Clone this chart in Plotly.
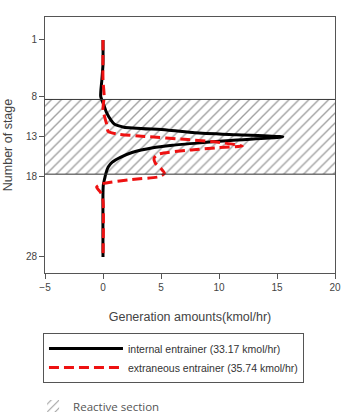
import plotly.graph_objects as go

# ---- data ----
stage_internal = [1, 4, 6, 8, 9, 10, 11, 11.5, 11.85, 12.2, 12.55, 12.8, 13.05,
                  13.15, 13.5, 13.8, 14.1, 14.4, 15.0, 15.6, 16.2, 16.8, 17.6,
                  18.4, 19.0, 20, 28]
gen_internal = [0, 0, -0.1, -0.2, 0.05, 0.3, 0.7, 1.0, 1.8, 5.5, 7.9, 11.5, 15.5,
                15.0, 11.0, 8.4, 6.0, 4.3, 2.5, 1.5, 0.8, 0.45, 0.25,
                0.12, 0.03, 0, 0]

stage_extraneous = [1, 6, 8, 9.7, 11.4, 12.4, 12.7, 13.0, 13.4, 13.7, 14.0, 14.2,
                    14.4, 14.7, 15.2, 15.7, 16.3, 17.0, 17.6, 18.0, 18.4, 18.9,
                    19.3, 20, 21, 28]
gen_extraneous = [0, 0, 0.1, 0, 0.3, 0.45, 1.2, 3.6, 7.3, 9.8, 11.3, 12.0,
                  10.0, 7.5, 4.8, 4.4, 4.5, 5.0, 5.3, 4.9, 2.2, -0.1,
                  -0.55, -0.2, 0, 0]

reactive_start, reactive_end = 8.4, 17.7
x_min, x_max = -5, 20
y_tickvals = [1, 8, 13, 18, 28]
x_tickvals = [-5, 0, 5, 10, 15, 20]

name_internal = "internal entrainer (33.17 kmol/hr)"
name_extraneous = "extraneous entrainer (35.74 kmol/hr)"
name_reactive = "Reactive section"

fig = go.Figure()

# hatched reactive section as a single horizontal bar spanning the x range
fig.add_trace(go.Bar(
    orientation="h",
    y=[(reactive_start + reactive_end) / 2],
    x=[x_max - x_min], base=[x_min],
    width=[reactive_end - reactive_start],
    marker=dict(color="white", line=dict(width=0),
                pattern=dict(shape="/", fgcolor="#444444", bgcolor="white",
                             size=7, solidity=0.2)),
    name=name_reactive, legend="legend2", hoverinfo="skip",
))

fig.add_trace(go.Scatter(
    x=gen_internal, y=stage_internal, mode="lines",
    line=dict(color="black", width=3, shape="spline", smoothing=0.6),
    name=name_internal,
))
fig.add_trace(go.Scatter(
    x=gen_extraneous, y=stage_extraneous, mode="lines",
    line=dict(color="#ee1111", width=3, dash="10px,5px", shape="spline", smoothing=0.6),
    name=name_extraneous,
))

for yv in (reactive_start, reactive_end):
    fig.add_shape(type="line", xref="paper", x0=0, x1=1, yref="y", y0=yv, y1=yv,
                  line=dict(color="#333333", width=1))

axis_common = dict(showline=True, linecolor="#555555", linewidth=1, mirror=True,
                   showgrid=False, zeroline=False, ticks="outside", ticklen=5,
                   tickcolor="#555555", tickfont=dict(size=10, color="#444444"))

fig.update_layout(
    width=344, height=418,
    margin=dict(l=45, r=9, t=17, b=145, autoexpand=False),
    paper_bgcolor="white", plot_bgcolor="white",
    font=dict(family="Liberation Sans, Arial, sans-serif", color="#444444"),
    xaxis=dict(range=[x_min, x_max], tickvals=x_tickvals,
               title=dict(text="Generation amounts(kmol/hr)", font=dict(size=12.5), standoff=20),
               **axis_common),
    yaxis=dict(range=[30, -1.86], tickvals=y_tickvals,
               title=dict(text="Number of stage", font=dict(size=12.5), standoff=10),
               **axis_common),
    legend=dict(x=-0.007, y=-0.234, xanchor="left", yanchor="top",
                bordercolor="#555555", borderwidth=1, itemwidth=74,
                font=dict(size=10.5, color="#333333"), traceorder="normal"),
    legend2=dict(x=-0.041, y=-0.52, xanchor="left", yanchor="middle",
                 font=dict(family="Open Sans, sans-serif", size=11.5, color="#555555")),
    showlegend=True,
    bargap=0,
)

fig.write_html("out.html")
